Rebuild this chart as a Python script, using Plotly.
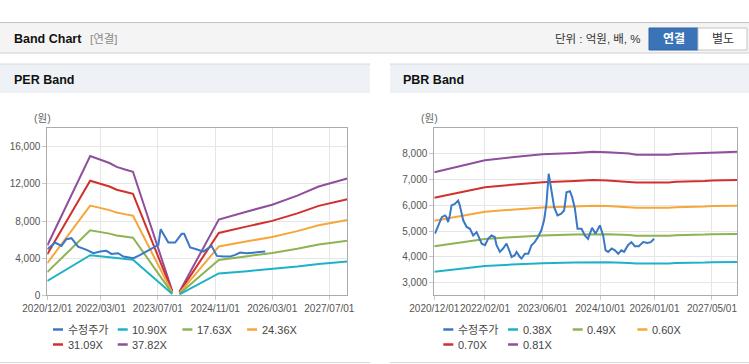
import plotly.graph_objects as go

W, H = 749, 364

# ---------------- DATA ----------------
per_band_dates = ["2020-12-01", "2021-12-01", "2022-05-15", "2022-07-15", "2022-10-01", "2022-12-01",
                  "2023-11-01", "2023-12-01", "2024-01-01", "2024-12-01", "2025-08-01", "2026-03-01",
                  "2026-10-01", "2027-04-01", "2027-12-01"]
per_10_90 = [1548, 4327, 4109, 3989, 3902, 3837, 131, None, 109, 2354, 2605, 2812, 3096, 3379, 3630]
per_17_63 = [2503, 6999, 6647, 6453, 6312, 6206, 212, None, 176, 3808, 4214, 4549, 5007, 5465, 5871]
per_24_36 = [3459, 9671, 9184, 8916, 8721, 8575, 292, None, 244, 5262, 5822, 6285, 6918, 7552, 8112]
per_31_09 = [4415, 12343, 11721, 11379, 11130, 10944, 373, None, 311, 6715, 7431, 8021, 8830, 9638, 10353]
per_37_82 = [5370, 15015, 14258, 13842, 13540, 13313, 454, None, 378, 8169, 9039, 9758, 10741, 11724, 12594]

per_price_dates = ["2020-12-01", "2021-02-05", "2021-04-01", "2021-05-12", "2021-06-25", "2021-08-20",
                   "2021-11-01", "2021-12-28", "2022-02-25", "2022-04-18", "2022-06-01", "2022-07-28",
                   "2022-09-10", "2022-10-22", "2022-12-05", "2023-02-01", "2023-03-25", "2023-05-22",
                   "2023-07-05", "2023-07-25", "2023-09-28", "2023-11-25", "2024-01-20", "2024-02-10",
                   "2024-04-01", "2024-05-25", "2024-07-22", "2024-10-01", "2024-11-15", "2025-01-10",
                   "2025-03-06", "2025-04-20", "2025-06-01", "2025-07-28", "2025-10-22", "2026-01-01"]
per_price = [4970, 5690, 5330, 6050, 6160, 5250, 4900, 4540, 4710, 4790, 4460, 4540,
             4170, 4100, 4000, 4350, 4710, 5080, 5440, 7130, 5690, 5690, 6630, 6630,
             5150, 4970, 4710, 5330, 4250, 4170, 4170, 4350, 4600, 4540, 4600, 4710]

pbr_band_dates = ["2020-12-01", "2021-08-01", "2022-02-01", "2022-09-15", "2023-06-01", "2024-03-01",
                  "2024-08-01", "2024-12-01", "2025-06-01", "2025-08-01", "2026-05-01", "2026-07-01",
                  "2027-03-01", "2027-05-01", "2027-12-01"]
pbr_0_38 = [3420, 3545, 3640, 3694, 3747, 3773, 3792, 3785, 3762, 3739, 3739, 3754, 3773, 3785, 3792]
pbr_0_49 = [4410, 4572, 4694, 4763, 4831, 4866, 4890, 4880, 4851, 4822, 4822, 4841, 4866, 4880, 4890]
pbr_0_60 = [5400, 5598, 5748, 5832, 5916, 5958, 5988, 5976, 5940, 5904, 5904, 5928, 5958, 5976, 5988]
pbr_0_70 = [6300, 6531, 6706, 6804, 6902, 6951, 6986, 6972, 6930, 6888, 6888, 6916, 6951, 6972, 6986]
pbr_0_81 = [7290, 7557, 7760, 7873, 7987, 8043, 8084, 8068, 8019, 7970, 7970, 8003, 8043, 8068, 8084]

pbr_price_dates = ["2020-12-07", "2021-01-04", "2021-02-02", "2021-03-01", "2021-03-14", "2021-03-27",
                   "2021-04-11", "2021-04-25", "2021-05-23", "2021-06-20", "2021-07-04", "2021-08-02",
                   "2021-08-31", "2021-09-28", "2021-10-25", "2021-11-23", "2021-12-21", "2022-01-05",
                   "2022-02-02", "2022-02-28", "2022-03-28", "2022-04-25", "2022-05-10", "2022-06-07",
                   "2022-07-04", "2022-08-02", "2022-08-30", "2022-09-14", "2022-10-11", "2022-10-26",
                   "2022-11-23", "2022-12-07", "2023-01-04", "2023-02-02", "2023-03-01", "2023-03-28",
                   "2023-04-25", "2023-05-23", "2023-06-15", "2023-07-05", "2023-07-24", "2023-08-10",
                   "2023-09-08", "2023-10-06", "2023-11-04", "2023-12-01", "2023-12-21", "2024-01-19",
                   "2024-02-07", "2024-03-01", "2024-03-23", "2024-04-26", "2024-05-24", "2024-06-20",
                   "2024-07-24", "2024-08-22", "2024-09-28", "2024-10-25", "2024-11-15", "2024-12-07",
                   "2025-01-05", "2025-02-02", "2025-03-01", "2025-03-28", "2025-04-20", "2025-05-23",
                   "2025-06-21", "2025-07-19", "2025-08-22", "2025-09-28", "2025-11-04", "2025-12-01",
                   "2025-12-29"]
pbr_price = [4900, 5220, 5540, 5610, 5540, 5350, 5610, 6000, 6060, 6190, 6000, 5420,
             5160, 5090, 4830, 4960, 4700, 4510, 4450, 4700, 4830, 4770, 4450, 4190,
             4320, 4510, 4190, 3990, 4060, 4190, 3990, 3930, 4120, 4120, 4450, 4570,
             4770, 5030, 5420, 6060, 7230, 6710, 5930, 5610, 5670, 5800, 6510, 6550,
             6320, 5870, 5090, 5090, 4830, 4700, 5130, 4900, 5220, 4830, 4250, 4190,
             4320, 4250, 4120, 4250, 4190, 4450, 4570, 4410, 4410, 4570, 4540, 4570,
             4700]

per_tickvals = ["2020-12-01", "2022-03-01", "2023-07-01", "2024-11-01", "2026-03-01", "2027-07-01"]
pbr_tickvals = ["2020-12-01", "2022-02-01", "2023-06-01", "2024-10-01", "2026-01-01", "2027-05-01"]
per_yticks = [0, 4000, 8000, 12000, 16000]
pbr_yticks = [3000, 4000, 5000, 6000, 7000, 8000]

per_names = ["수정주가", "10.90X", "17.63X", "24.36X", "31.09X", "37.82X"]
pbr_names = ["수정주가", "0.38X", "0.49X", "0.60X", "0.70X", "0.81X"]
colors = ["#3a78c6", "#1eb2c8", "#8db453", "#f5a73b", "#d2302c", "#8e4f9c"]

FONT = "Liberation Sans, Noto Sans CJK KR, sans-serif"

# ---------------- FIGURE ----------------
fig = go.Figure()

per_series = [(per_price_dates, per_price), (per_band_dates, per_10_90), (per_band_dates, per_17_63),
              (per_band_dates, per_24_36), (per_band_dates, per_31_09), (per_band_dates, per_37_82)]
pbr_series = [(pbr_price_dates, pbr_price), (pbr_band_dates, pbr_0_38), (pbr_band_dates, pbr_0_49),
              (pbr_band_dates, pbr_0_60), (pbr_band_dates, pbr_0_70), (pbr_band_dates, pbr_0_81)]

order = [5, 4, 3, 2, 1, 0]
for i in order:
    x, y = per_series[i]
    fig.add_trace(go.Scatter(x=x, y=y, mode="lines", name=per_names[i], xaxis="x", yaxis="y",
                             line=dict(color=colors[i], width=2), connectgaps=False, showlegend=False))
for i in order:
    x, y = pbr_series[i]
    fig.add_trace(go.Scatter(x=x, y=y, mode="lines", name=pbr_names[i], xaxis="x2", yaxis="y2",
                             line=dict(color=colors[i], width=2), connectgaps=False, showlegend=False))


def px(xp):
    return xp / W


def py(yp):
    return 1 - yp / H


ydom = [py(295.3), py(128.3)]
axis_common = dict(showline=True, mirror=True, linecolor="#ababab", linewidth=1,
                   showgrid=True, gridcolor="#e6e6e6", gridwidth=1, zeroline=False,
                   ticks="outside", ticklen=4, tickcolor="#c8c8c8", tickangle=0, automargin=False,
                   tickfont=dict(family=FONT, size=10, color="#555555"))

fig.update_layout(
    template="none",
    width=W, height=H, autosize=False,
    margin=dict(l=0, r=0, t=0, b=0, pad=0, autoexpand=False),
    paper_bgcolor="white", plot_bgcolor="white",
    showlegend=False,
    xaxis=dict(domain=[px(47.3), px(347.3)], type="date", range=["2020-12-01", "2027-12-01"],
               tickvals=per_tickvals, tickformat="%Y/%m/%d", anchor="y", **axis_common),
    yaxis=dict(domain=ydom, range=[0, 18000], tickvals=per_yticks, tickformat=",d", anchor="x",
               **axis_common),
    xaxis2=dict(domain=[px(434.3), px(737.3)], type="date", range=["2020-12-01", "2027-12-01"],
                tickvals=pbr_tickvals, tickformat="%Y/%m/%d", anchor="y2", **axis_common),
    yaxis2=dict(domain=ydom, range=[2500, 9000], tickvals=pbr_yticks, tickformat=",d", anchor="x2",
                **axis_common),
)

shapes = []
ann = []

shapes.append(dict(type="rect", xref="paper", yref="paper", x0=0, x1=1, y0=py(53), y1=py(22.5),
                   fillcolor="#f4f4f4", line=dict(width=0), layer="below"))
shapes.append(dict(type="line", xref="paper", yref="paper", x0=0, x1=1, y0=py(22.5), y1=py(22.5),
                   line=dict(color="#c4c4c4", width=1)))
shapes.append(dict(type="line", xref="paper", yref="paper", x0=0, x1=1, y0=py(53), y1=py(53),
                   line=dict(color="#cfcfcf", width=1)))
ann.append(dict(text="<b>Band Chart</b>", x=px(12), y=py(39), xref="paper", yref="paper",
                xanchor="left", yanchor="middle", showarrow=False,
                font=dict(family=FONT, size=12.5, color="#111111")))
ann.append(dict(text="[연결]", x=px(88), y=py(39), xref="paper", yref="paper",
                xanchor="left", yanchor="middle", showarrow=False,
                font=dict(family=FONT, size=11.5, color="#8a8a8a")))
ann.append(dict(text="단위 : 억원, 배, %", x=px(643), y=py(39), xref="paper", yref="paper",
                xanchor="right", yanchor="middle", showarrow=False,
                font=dict(family=FONT, size=11.5, color="#333333")))
shapes.append(dict(type="rect", xref="paper", yref="paper", x0=px(649), x1=px(698), y0=py(50), y1=py(28),
                   fillcolor="#3a73b8", line=dict(color="#2f64a4", width=1)))
shapes.append(dict(type="rect", xref="paper", yref="paper", x0=px(698), x1=px(747), y0=py(50), y1=py(28),
                   fillcolor="#ffffff", line=dict(color="#c4c4c4", width=1)))
ann.append(dict(text="<b>연결</b>", x=px(673.5), y=py(39), xref="paper", yref="paper",
                xanchor="center", yanchor="middle", showarrow=False,
                font=dict(family=FONT, size=12, color="#ffffff")))
ann.append(dict(text="별도", x=px(722.5), y=py(39), xref="paper", yref="paper",
                xanchor="center", yanchor="middle", showarrow=False,
                font=dict(family=FONT, size=12, color="#333333")))

panels = [(0, 370, "PER Band", 12, 53, per_names), (390, 749, "PBR Band", 401, 443.3, pbr_names)]
for (x0, x1, title, tx, lx, names) in panels:
    shapes.append(dict(type="rect", xref="paper", yref="paper", x0=px(x0), x1=px(x1), y0=py(93), y1=py(64),
                       fillcolor="#eef1f6", line=dict(width=0), layer="below"))
    shapes.append(dict(type="line", xref="paper", yref="paper", x0=px(x0), x1=px(x1), y0=py(64), y1=py(64),
                       line=dict(color="#d8d8d8", width=1)))
    shapes.append(dict(type="line", xref="paper", yref="paper", x0=px(x0), x1=px(x1), y0=py(362.5), y1=py(362.5),
                       line=dict(color="#d8d8d8", width=1)))
    ann.append(dict(text="<b>%s</b>" % title, x=px(tx), y=py(79.5), xref="paper", yref="paper",
                    xanchor="left", yanchor="middle", showarrow=False,
                    font=dict(family=FONT, size=12.5, color="#111111")))
    for k, name in enumerate(names):
        col = k % 4
        row = k // 4
        xl = lx + col * 64.7
        yl = 329.5 + row * 15
        shapes.append(dict(type="line", xref="paper", yref="paper", x0=px(xl), x1=px(xl + 10),
                           y0=py(yl), y1=py(yl), line=dict(color=colors[k], width=2.5)))
        ann.append(dict(text=name, x=px(xl + 12.5), y=py(yl), xref="paper", yref="paper",
                        xanchor="left", yanchor="middle", showarrow=False,
                        font=dict(family=FONT, size=11, color="#444444")))

ann.append(dict(text="(원)", x=px(42), y=py(118), xref="paper", yref="paper", xanchor="center",
                yanchor="middle", showarrow=False, font=dict(family=FONT, size=10.5, color="#666666")))
ann.append(dict(text="(원)", x=px(429), y=py(118), xref="paper", yref="paper", xanchor="center",
                yanchor="middle", showarrow=False, font=dict(family=FONT, size=10.5, color="#666666")))

fig.update_layout(shapes=shapes, annotations=ann)
fig.write_html("out.html", config={"responsive": False, "displayModeBar": False},
               default_width="749px", default_height="364px",
               post_script="document.body.style.margin='0px';document.body.style.padding='0px';document.body.style.overflow='hidden';")
